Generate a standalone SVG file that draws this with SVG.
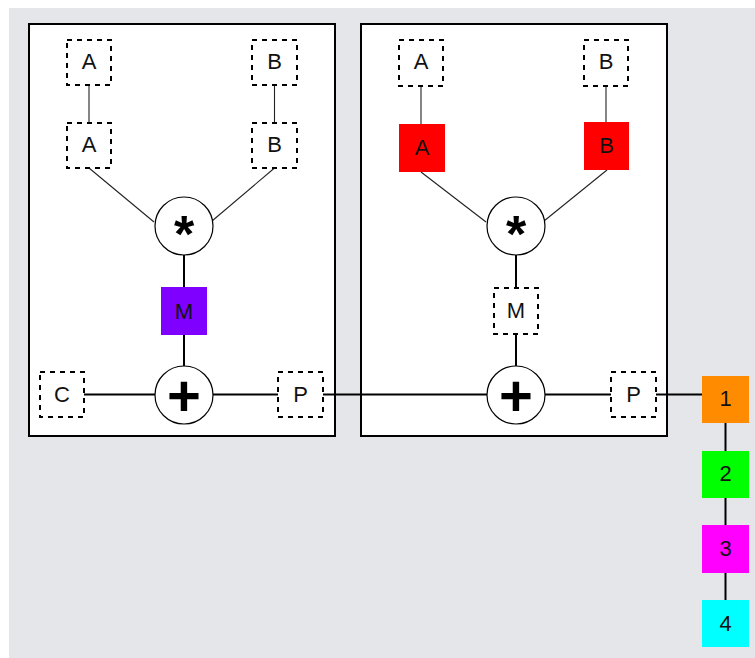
<svg xmlns="http://www.w3.org/2000/svg" width="755" height="658" viewBox="0 0 755 658">
<style>
.bg{fill:#e5e6ea}
.box{fill:#fff;stroke:#000;stroke-width:2}
.dash{fill:#fff;stroke:#000;stroke-width:2;stroke-dasharray:5 5}
.lbl{font-family:"Liberation Sans",Arial,sans-serif;font-size:22px;fill:#111;text-anchor:middle}
.op{fill:#fff;stroke:#000;stroke-width:1.2}
.opt{font-family:"Liberation Sans",Arial,sans-serif;font-weight:bold;fill:#000;text-anchor:middle}
.thin{stroke:#222;stroke-width:1.1;fill:none}
.thick{stroke:#000;stroke-width:2;fill:none}
</style>
<rect class="bg" x="9" y="8" width="746" height="650"/>
<g id="group1"><rect class="box" x="29" y="24" width="306" height="412"/></g>
<g id="group2"><rect class="box" x="361" y="24" width="306" height="412"/></g>
<g id="connectors">
<line class="thin" x1="89" y1="85" x2="89" y2="123" stroke="#555"/>
<line class="thin" x1="274.5" y1="85" x2="274.5" y2="123"/>
<line class="thin" x1="89" y1="168" x2="154" y2="222"/>
<line class="thin" x1="274.5" y1="168" x2="212" y2="221"/>
<line class="thin" x1="421" y1="86" x2="421" y2="124"/>
<line class="thin" x1="606" y1="86" x2="606" y2="122"/>
<line class="thin" x1="421" y1="172" x2="486" y2="222"/>
<line class="thin" x1="607" y1="170" x2="544" y2="221"/>
<line class="thick" x1="184" y1="255" x2="184" y2="287"/>
<line class="thick" x1="184" y1="335" x2="184" y2="366"/>
<line class="thick" x1="516" y1="255" x2="516" y2="288"/>
<line class="thick" x1="516" y1="334" x2="516" y2="366"/>
<line class="thick" x1="84" y1="394.5" x2="155" y2="394.5"/>
<line class="thick" x1="213" y1="394.5" x2="278" y2="394.5"/>
<line class="thick" x1="323" y1="394.5" x2="487" y2="394.5"/>
<line class="thick" x1="545" y1="394.5" x2="611" y2="394.5"/>
<line class="thick" x1="656" y1="394.5" x2="702" y2="394.5"/>
<line class="thick" x1="725.5" y1="423" x2="725.5" y2="451"/>
<line class="thick" x1="725.5" y1="498" x2="725.5" y2="525"/>
<line class="thick" x1="725.5" y1="573" x2="725.5" y2="600"/>
</g>
<g id="L_A1"><rect class="dash" x="67" y="40" width="44" height="45"/><text class="lbl" x="89" y="69">A</text></g>
<g id="L_A2"><rect class="dash" x="67" y="123" width="44" height="45"/><text class="lbl" x="89" y="152">A</text></g>
<g id="L_B1"><rect class="dash" x="252" y="40" width="45" height="45"/><text class="lbl" x="274.5" y="69">B</text></g>
<g id="L_B2"><rect class="dash" x="252" y="123" width="45" height="45"/><text class="lbl" x="274.5" y="152">B</text></g>
<g id="L_mul"><circle class="op" cx="184" cy="226" r="29"/><text class="opt" x="184" y="252" font-size="52">*</text></g>
<g id="L_M"><rect x="161" y="287" width="46" height="48" fill="#7f00ff"/><text class="lbl" x="184" y="319">M</text></g>
<g id="L_add"><circle class="op" cx="184" cy="395" r="29"/><text class="opt" x="184" y="416" font-size="58">+</text></g>
<g id="L_C"><rect class="dash" x="40" y="372" width="44" height="45"/><text class="lbl" x="62" y="402">C</text></g>
<g id="L_P"><rect class="dash" x="278" y="372" width="45" height="45"/><text class="lbl" x="300.5" y="402">P</text></g>
<g id="R_A1"><rect class="dash" x="399" y="40" width="44" height="46"/><text class="lbl" x="421" y="69">A</text></g>
<g id="R_B1"><rect class="dash" x="584" y="40" width="44" height="46"/><text class="lbl" x="606" y="69">B</text></g>
<g id="R_A2"><rect x="399" y="124" width="46" height="48" fill="#ff0000"/><text class="lbl" x="422" y="155">A</text></g>
<g id="R_B2"><rect x="584" y="122" width="45" height="48" fill="#ff0000"/><text class="lbl" x="606.5" y="153">B</text></g>
<g id="R_mul"><circle class="op" cx="516" cy="226" r="29"/><text class="opt" x="516" y="252" font-size="52">*</text></g>
<g id="R_M"><rect class="dash" x="494" y="288" width="44" height="46"/><text class="lbl" x="516" y="318">M</text></g>
<g id="R_add"><circle class="op" cx="516" cy="395" r="29"/><text class="opt" x="516" y="416" font-size="58">+</text></g>
<g id="R_P"><rect class="dash" x="611" y="372" width="45" height="45"/><text class="lbl" x="633.5" y="402">P</text></g>
<g id="n1"><rect x="702" y="376" width="47" height="47" fill="#ff8c00"/><text class="lbl" x="725.5" y="406">1</text></g>
<g id="n2"><rect x="702" y="451" width="47" height="47" fill="#00ff00"/><text class="lbl" x="725.5" y="481">2</text></g>
<g id="n3"><rect x="702" y="525" width="47" height="48" fill="#ff00ff"/><text class="lbl" x="725.5" y="556">3</text></g>
<g id="n4"><rect x="702" y="600" width="47" height="47" fill="#00ffff"/><text class="lbl" x="725.5" y="631">4</text></g>
</svg>
